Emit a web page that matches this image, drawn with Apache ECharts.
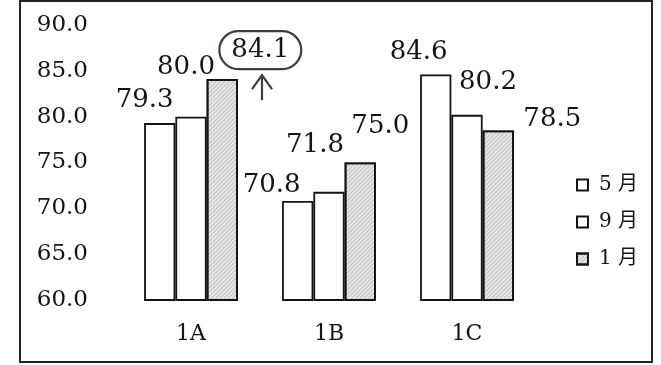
<!DOCTYPE html>
<html>
<head>
<meta charset="utf-8">
<script src="https://cdn.jsdelivr.net/npm/echarts@6/dist/echarts.min.js"></script>
<style>html,body{margin:0;padding:0;background:#fff;}#c{width:661px;height:365px;}</style>
</head>
<body>
<div id="c"></div>
<script>
const categories = ['1A', '1B', '1C'];
const seriesNames = ['5 月', '9 月', '1 月'];
const valuesMay = [79.3, 70.8, 84.6];
const valuesSep = [80.0, 71.8, 80.2];
const valuesJan = [84.1, 75.0, 78.5];
const yMin = 60, yMax = 90, yStep = 5;

// label placement (style only)
const labelOffsets = [
  [[-15, -10], [-26, -3], [-17, -9]],
  [[-5, -36], [-14, -34], [21, -20]],
  [[38, -10], [20, -23], [54, 2]]
];
const circled = { s: 2, i: 0 };

const FONT = "'DejaVu Serif', 'Liberation Serif', 'Noto Sans CJK JP', serif";
const INK = '#141414';

const chart = echarts.init(document.getElementById('c'));
const allValues = [valuesMay, valuesSep, valuesJan];

function buildData(vals, s) {
  return vals.map((v, i) => {
    const lab = { offset: labelOffsets[s][i] };
    if (circled.s === s && circled.i === i) {
      Object.assign(lab, {
        borderColor: '#3a403a', borderWidth: 2.2, borderRadius: 19,
        padding: [6, 12, 6, 12]
      });
    }
    return { value: v, label: lab };
  });
}

const seriesStyles = [
  { color: '#ffffff' },
  { color: '#ffffff' },
  { color: '#e8e8e8', decal: { symbol: 'rect', symbolSize: 1, dashArrayX: [1, 0], dashArrayY: [1, 2], rotation: -Math.PI / 4, color: 'rgba(90,90,90,0.3)' } }
];

const series = allValues.map((vals, s) => ({
  name: seriesNames[s],
  type: 'bar',
  data: buildData(vals, s),
  barGap: 0,
  barCategoryGap: '32%',
  itemStyle: Object.assign({ borderColor: INK, borderWidth: 1.8 }, seriesStyles[s]),
  label: {
    show: true, position: 'top', distance: 0,
    formatter: p => p.value.toFixed(1),
    fontFamily: FONT, fontSize: 26, color: INK
  },
  emphasis: { disabled: true }
}));

chart.setOption({
  animation: false,
  backgroundColor: '#ffffff',
  grid: { left: 122, right: 125, top: 25, bottom: 65 },
  legend: {
    orient: 'vertical', left: 571, top: 170,
    itemWidth: 11, itemHeight: 11, itemGap: 17,
    icon: 'rect',
    data: seriesNames,
    textStyle: { fontFamily: FONT, fontSize: 20, color: INK, padding: [0, 0, 0, 6] },
    selectedMode: false
  },
  xAxis: {
    type: 'category', data: categories,
    axisLine: { show: false }, axisTick: { show: false },
    axisLabel: { fontFamily: FONT, fontSize: 22, color: INK, margin: 23 }
  },
  yAxis: {
    type: 'value', min: yMin, max: yMax, interval: yStep,
    axisLine: { show: false }, axisTick: { show: false }, splitLine: { show: false },
    axisLabel: { fontFamily: FONT, fontSize: 23, color: INK, margin: 34, formatter: v => v.toFixed(1) }
  },
  series: series
});

// frame and handwritten arrow annotation
const pt = chart.convertToPixel({ xAxisIndex: 0, yAxisIndex: 0 }, [categories[circled.i], allValues[circled.s][circled.i]]);
const ax = pt[0] + 71, ay = pt[1];
chart.setOption({
  graphic: [
    { type: 'rect', shape: { x: 20, y: 1, width: 632, height: 361 }, style: { fill: 'none', stroke: '#222', lineWidth: 2 }, silent: true },
    { type: 'polyline', shape: { points: [[ax, ay - 4], [ax, ay + 21]] }, style: { stroke: '#3a403a', lineWidth: 2.2, fill: 'none' }, silent: true },
    { type: 'polyline', shape: { points: [[ax - 10, ay + 10], [ax, ay - 4], [ax + 10, ay + 10]] }, style: { stroke: '#3a403a', lineWidth: 2.2, fill: 'none' }, silent: true }
  ]
});
</script>
</body>
</html>
